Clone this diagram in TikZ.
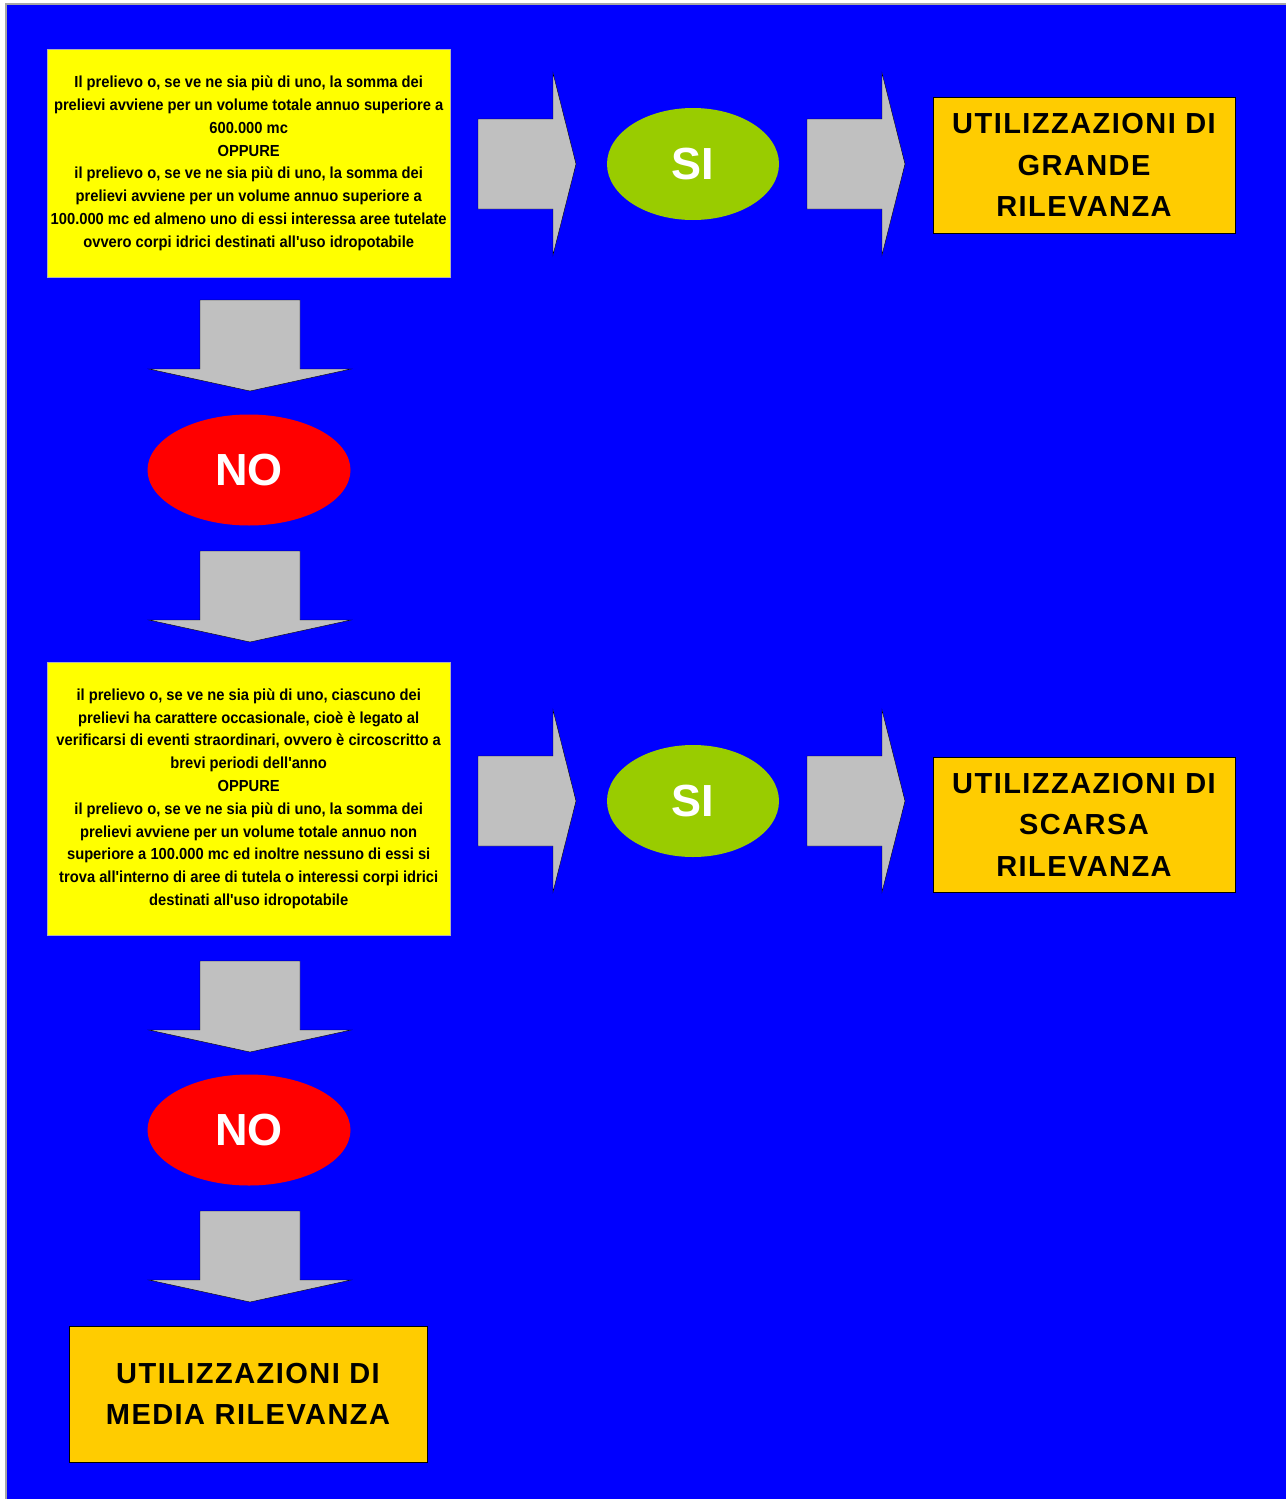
\documentclass[tikz,border=0pt]{standalone}
\usepackage{fontspec}
\setmainfont{Liberation Sans}
\newfontfamily\narrowfont[FakeStretch=0.92]{Liberation Sans Bold}
\newfontfamily\widefont[LetterSpace=5]{Liberation Sans Bold}
\usepackage{tikz}
\usetikzlibrary{shapes.geometric,positioning}
\definecolor{bgblue}{HTML}{0000FF}
\definecolor{condyellow}{HTML}{FFFF00}
\definecolor{resorange}{HTML}{FFCC00}
\definecolor{sigreen}{HTML}{99CC00}
\definecolor{nored}{HTML}{FF0000}
\definecolor{blockgray}{HTML}{C0C0C0}
\tikzset{
  condbox/.style={rectangle,fill=condyellow,draw=gray!60,thin,anchor=north west,
    align=center,font=\narrowfont\fontsize{16}{22.8}\selectfont},
  resbox/.style={rectangle,fill=resorange,draw=black,thin,align=center,
    font=\widefont\fontsize{29}{41.5}\selectfont},
  answer/.style={ellipse,inner sep=0pt,text=white,
    font=\bfseries\fontsize{45}{50}\selectfont},
  block/.style={fill=blockgray,draw=black,thin,line join=miter},
  downblock/.pic={
    \draw[block] (-50,0) -- (50,0) -- (50,69) -- (101,69) -- (0,91)
      -- (-101,69) -- (-50,69) -- cycle;
  },
  rightblock/.pic={
    \draw[block] (0,-45) -- (75,-45) -- (75,-91) -- (98,0) -- (75,91)
      -- (75,45) -- (0,45) -- cycle;
  }
}

\begin{document}
\begin{tikzpicture}[x=1pt,y=-1pt]
  \useasboundingbox (0,0) rectangle (1286,1499);
  \fill[bgblue] (6,4) rectangle (1286,1499);
  \draw[gray!70,line width=1.5pt] (6,1499) -- (6,4) -- (1286,4);

  % first question
  \node[condbox,minimum width=403pt,minimum height=228pt] (cond1) at (47,49)
    {Il prelievo o, se ve ne sia più di uno, la somma dei\\
     prelievi avviene per un volume totale annuo superiore a\\
     600.000 mc\\
     OPPURE\\
     il prelievo o, se ve ne sia più di uno, la somma dei\\
     prelievi avviene per un volume annuo superiore a\\
     100.000 mc ed almeno uno di essi interessa aree tutelate\\
     ovvero corpi idrici destinati all'uso idropotabile};
  \node[answer,fill=sigreen,minimum width=172pt,minimum height=112pt] (si1) at (693,164) {SI};
  \node[resbox,minimum width=302pt,minimum height=136pt] (grande) at (1084,165)
    {UTILIZZAZIONI DI\\GRANDE\\RILEVANZA};
  \node[answer,fill=nored,minimum width=203pt,minimum height=111pt] (no1) at (249,470) {NO};

  % second question
  \node[condbox,minimum width=403pt,minimum height=273pt] (cond2) at (47,662)
    {il prelievo o, se ve ne sia più di uno, ciascuno dei\\
     prelievi ha carattere occasionale, cioè è legato al\\
     verificarsi di eventi straordinari, ovvero è circoscritto a\\
     brevi periodi dell'anno\\
     OPPURE\\
     il prelievo o, se ve ne sia più di uno, la somma dei\\
     prelievi avviene per un volume totale annuo non\\
     superiore a 100.000 mc ed inoltre nessuno di essi si\\
     trova all'interno di aree di tutela o interessi corpi idrici\\
     destinati all'uso idropotabile};
  \node[answer,fill=sigreen,minimum width=172pt,minimum height=112pt] (si2) at (693,801) {SI};
  \node[resbox,minimum width=302pt,minimum height=135pt] (scarsa) at (1084,824.5)
    {UTILIZZAZIONI DI\\SCARSA\\RILEVANZA};
  \node[answer,fill=nored,minimum width=203pt,minimum height=111pt] (no2) at (249,1130) {NO};
  \node[resbox,minimum width=358pt,minimum height=136pt] (media) at (248,1394)
    {UTILIZZAZIONI DI\\MEDIA RILEVANZA};

  % block arrows
  \pic at (478,164) {rightblock};
  \pic at (807,164) {rightblock};
  \pic at (478,801) {rightblock};
  \pic at (807,801) {rightblock};
  \pic at (250,300) {downblock};
  \pic at (250,551) {downblock};
  \pic at (250,961) {downblock};
  \pic at (250,1211) {downblock};
\end{tikzpicture}
\end{document}
